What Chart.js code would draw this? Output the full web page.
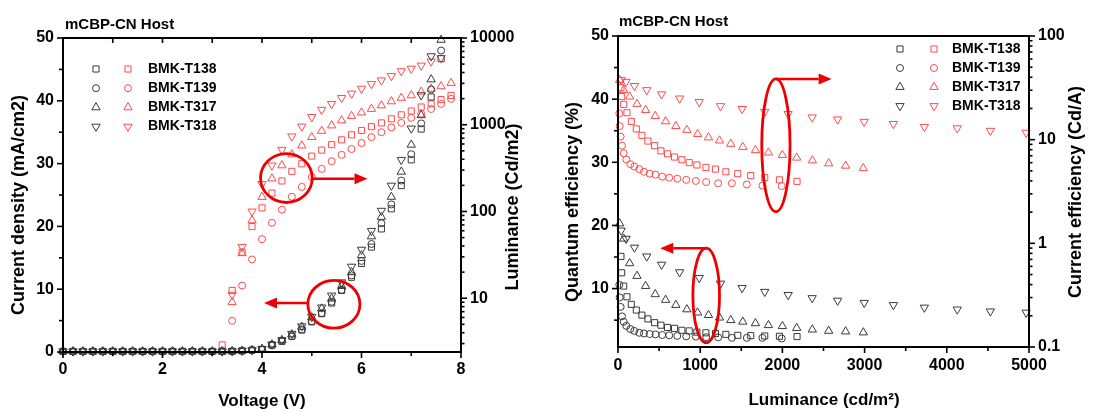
<!DOCTYPE html>
<html><head><meta charset="utf-8">
<script src="https://cdn.jsdelivr.net/npm/chart.js@4.4.1/dist/chart.umd.min.js"></script>
<style>
html,body{margin:0;padding:0;background:#fff;}
body{width:1097px;height:412px;overflow:hidden;position:relative;}
#c1{position:absolute;left:0;top:0;}
#c2{position:absolute;left:560px;top:0;}
</style></head>
<body>
<canvas id="c1" width="560" height="412"></canvas>
<canvas id="c2" width="537" height="412"></canvas>
<script>
// ---------------- DATA ----------------
const devices = ['BMK-T138', 'BMK-T139', 'BMK-T317', 'BMK-T318'];

// Left panel: voltage sweep (V)
const voltage = [0,0.2,0.4,0.6,0.8,1.0,1.2,1.4,1.6,1.8,2.0,2.2,2.4,2.6,2.8,3.0,3.2,3.4,3.6,3.8,4.0,4.2,4.4,4.6,4.8,5.0,5.2,5.4,5.6,5.8,6.0,6.2,6.4,6.6,6.8,7.0,7.2,7.4,7.6,7.8];

// Current density (mA/cm2)
const jT138 = [0.1,0.1,0.1,0.1,0.1,0.1,0.1,0.1,0.1,0.1,0.1,0.1,0.1,0.1,0.1,0.1,0.1,0.12,0.18,0.3,0.4,1.1,1.7,2.5,3.5,4.8,6.1,7.8,9.8,11.9,14.1,16.7,19.6,22.8,26.5,30.6,35.5,40.6,46.7,null];
const jT139 = [0.1,0.1,0.1,0.1,0.1,0.1,0.1,0.1,0.1,0.1,0.1,0.1,0.1,0.1,0.1,0.1,0.1,0.12,0.18,0.3,0.4,1.1,1.8,2.5,3.6,4.9,6.2,8.0,9.9,12.2,14.5,17.2,20.5,23.5,27.3,31.5,36.4,41.8,48.0,null];
const jT317 = [0.1,0.1,0.1,0.1,0.1,0.1,0.1,0.1,0.1,0.1,0.1,0.1,0.1,0.1,0.1,0.1,0.1,0.12,0.2,0.3,0.5,1.2,1.9,2.8,4.0,5.5,6.9,8.5,10.5,12.7,15.4,18.4,21.5,24.7,28.7,33.0,37.7,43.4,49.7,null];
const jT318 = [0.1,0.1,0.1,0.1,0.1,0.1,0.1,0.1,0.1,0.1,0.1,0.1,0.1,0.1,0.1,0.1,0.1,0.12,0.2,0.3,0.5,1.2,1.9,2.9,4.1,5.6,7.1,9.0,11.1,13.6,16.3,19.3,22.5,26.5,30.6,35.6,40.9,47.1,null,null];

// Luminance (Cd/m2)
const lumT138 = [null,null,null,null,null,null,null,null,null,null,null,null,null,null,null,null,2.9,12.3,34,67,110,163,225,290,355,435,510,590,670,765,860,950,1050,1170,1300,1440,1600,1740,1950,2180];
const lumT139 = [null,null,null,null,null,null,null,null,null,null,null,null,null,null,null,null,null,5.5,14,28,48,74,105,148,192,250,310,380,450,525,615,720,820,930,1050,1200,1340,1520,1740,1990];
const lumT317 = [null,null,null,null,null,null,null,null,null,null,null,null,null,null,null,null,null,9,33,79,147,240,340,455,575,720,850,980,1120,1260,1380,1520,1670,1860,2040,2180,2400,2600,2770,3030];
const lumT318 = [null,null,null,null,null,null,null,null,null,null,null,null,null,null,null,null,null,11,39,100,208,340,515,735,955,1230,1490,1740,2040,2290,2610,2950,3250,3650,4150,4440,4820,5370,5900,null];

// Right panel: luminance (cd/m2) per device
const effLumT138 = [36,45,69,109,162,223,291,364,445,522,603,688,777,866,960,1069,1186,1312,1457,1615,1785,1964,2178];
const effLumT139 = [16,20,32,49,69,101,150,198,259,316,385,457,538,623,721,830,947,1073,1219,1385,1567,1757,1992];
const effLumT317 = [20,69,142,231,336,453,579,704,838,968,1101,1235,1372,1518,1672,1830,2000,2174,2364,2563,2769,2984];
const effLumT318 = [39,99,200,350,530,750,988,1247,1510,1785,2070,2362,2672,2995,3350,3727,4127,4530,4965];

// External quantum efficiency (%)
const eqeT138 = [15.1,12.5,10.4,8.7,7.5,6.6,5.8,5.2,4.6,4.2,3.85,3.7,3.4,3.3,3.1,3.0,2.9,2.75,2.6,2.55,2.5,2.45,2.4];
const eqeT139 = [10.6,8.6,7.1,5.6,4.75,4.1,3.6,3.3,3.0,2.9,2.8,2.75,2.65,2.6,2.5,2.43,2.4,2.3,2.27,2.2,2.2,2.2,2.1];
const eqeT317 = [20.3,17.9,14.0,12.0,10.4,9.1,8.2,7.4,6.7,6.2,5.8,5.4,5.0,4.75,4.5,4.2,4.05,3.75,3.5,3.3,3.2,3.05];
const eqeT318 = [19.2,17.9,16.5,15.1,13.8,12.6,11.7,10.8,10.1,9.5,9.0,8.5,8.1,7.75,7.4,7.0,6.7,6.4,6.2];

// Current efficiency (Cd/A)
const ceT138 = [31.7,26.0,21.9,18.2,15.0,12.7,11.0,9.7,8.75,7.8,7.3,6.8,6.4,6.0,5.7,5.4,5.2,4.9,4.7,4.5,4.3,4.1,3.96];
const ceT139 = [17.9,13.5,10.7,8.75,7.4,6.45,5.8,5.5,5.2,4.9,4.7,4.6,4.4,4.3,4.2,4.1,4.0,3.9,3.8,3.8,3.7,3.6,3.57];
const ceT317 = [37.6,30.1,26.0,22.1,19.3,16.9,15.0,13.5,12.4,11.3,10.5,9.8,9.1,8.5,7.9,7.5,7.1,6.7,6.3,5.9,5.6,5.3];
const ceT318 = [37.6,36.2,33.0,30.1,27.4,25.0,23.1,21.1,19.8,18.6,17.7,16.4,15.7,14.9,14.2,13.3,12.9,12.2,11.7];

// Tick labels
const voltTicks = [0,2,4,6,8];
const jTicks = [0,10,20,30,40,50];
const lumTicks = [10,100,1000,10000];
const effLumTicks = [0,1000,2000,3000,4000,5000];
const eqeTicks = [10,20,30,40,50];
const ceTicks = [0.1,1,10,100];

// ---------------- STYLE ----------------
const FONT = '"Liberation Sans", Arial, sans-serif';
const BLACK = '#3a3a3a';
const RED = '#ff4a4a';
const ANN = '#ee0000';
const shapes = [
  {pointStyle:'rect', radius:4.3, rotation:0},
  {pointStyle:'circle', radius:3.5, rotation:0},
  {pointStyle:'triangle', radius:4.8, rotation:0},
  {pointStyle:'triangle', radius:4.8, rotation:180}
];

function pairs(xs, ys) {
  const out = [];
  xs.forEach((x, i) => { if (ys[i] !== null && ys[i] !== undefined) out.push({x: x, y: ys[i]}); });
  return out;
}
function ds(label, data, axis, color, k) {
  return {label, data, yAxisID: axis, showLine:false, clip:false,
    pointStyle: shapes[k].pointStyle, pointRadius: shapes[k].radius, pointRotation: shapes[k].rotation,
    pointHoverRadius: shapes[k].radius,
    borderColor: color, backgroundColor: 'rgba(0,0,0,0)', pointBorderWidth: 1, borderWidth: 1};
}
function logMinors(lo, hi) {
  const m = [];
  for (let d = Math.floor(Math.log10(lo)); d < Math.ceil(Math.log10(hi)); d++) {
    for (let k = 2; k <= 9; k++) { const v = k * Math.pow(10, d); if (v >= lo && v <= hi) m.push(v); }
  }
  return m;
}
const tickFont = {family: FONT, weight: 'bold', size: 16};
const plainLabel = v => String(v);
function fixTicks(vals) { return s => { s.ticks = vals.map(v => ({value: v})); }; }

function txt(c, s, x, y, size, rot, align) {
  c.save(); c.translate(x, y); if (rot) c.rotate(rot);
  c.font = 'bold ' + size + 'px ' + FONT; c.fillStyle = '#000';
  c.textAlign = align || 'center'; c.textBaseline = 'middle';
  c.fillText(s, 0, 0); c.restore();
}
function arrow(c, x1, y1, x2, y2) {
  const ang = Math.atan2(y2 - y1, x2 - x1), L = 13, W = 5.5;
  const bx = x2 - L * Math.cos(ang), by = y2 - L * Math.sin(ang);
  c.beginPath(); c.moveTo(x1, y1); c.lineTo(bx, by); c.stroke();
  c.beginPath(); c.moveTo(x2, y2);
  c.lineTo(bx + W * Math.sin(ang), by - W * Math.cos(ang));
  c.lineTo(bx - W * Math.sin(ang), by + W * Math.cos(ang));
  c.closePath(); c.fill();
}

function makeDecor(cfg) {
  return {
    id: 'decor',
    afterDatasetsDraw(chart) {
      const c = chart.ctx, sc = chart.scales;
      c.save();
      c.strokeStyle = ANN; c.fillStyle = ANN; c.lineWidth = 2.8;
      cfg.ellipses.forEach(e => {
        const xs = sc.x, ys = sc[e.axis];
        const cx = xs.getPixelForValue(e.x);
        const rx = Math.abs(xs.getPixelForValue(e.x + e.dx) - cx);
        const yt = ys.getPixelForValue(e.top), yb = ys.getPixelForValue(e.bottom);
        c.beginPath(); c.ellipse(cx, (yt + yb) / 2, rx, Math.abs(yb - yt) / 2, 0, 0, 2 * Math.PI); c.stroke();
      });
      c.lineWidth = 2.5;
      cfg.arrows.forEach(a => {
        const ys = sc[a.axis];
        const y = ys.getPixelForValue(a.y);
        arrow(c, sc.x.getPixelForValue(a.x1), y, sc.x.getPixelForValue(a.x2), y);
      });
      c.restore();
    },
    afterDraw(chart) {
      const c = chart.ctx, a = chart.chartArea, sc = chart.scales;
      c.save();
      c.strokeStyle = '#000'; c.lineWidth = 2;
      c.strokeRect(a.left, a.top, a.right - a.left, a.bottom - a.top);
      c.lineWidth = 1.6;
      cfg.ticks.forEach(t => {
        const s = sc[t.scale];
        t.values.forEach(v => {
          const p = s.getPixelForValue(v);
          c.beginPath();
          if (t.side === 'bottom') { c.moveTo(p, a.bottom); c.lineTo(p, a.bottom + t.len); }
          else if (t.side === 'top') { c.moveTo(p, a.top); c.lineTo(p, a.top + t.len); }
          else if (t.side === 'left') { c.moveTo(a.left, p); c.lineTo(a.left - t.len, p); }
          else { c.moveTo(a.right, p); c.lineTo(a.right + t.len, p); }
          c.stroke();
        });
      });
      cfg.texts.forEach(t => txt(c, t.s, t.x, t.y, t.size, t.rot, t.align));
      const lg = cfg.legend;
      devices.forEach((d, i) => {
        const y = lg.y0 + i * lg.dy;
        const o = {pointStyle: shapes[i].pointStyle, rotation: shapes[i].rotation, radius: shapes[i].radius, borderWidth: 1};
        c.fillStyle = 'rgba(0,0,0,0)'; c.lineWidth = 1;
        c.strokeStyle = BLACK; Chart.helpers.drawPoint(c, o, lg.xb, y);
        c.fillStyle = 'rgba(0,0,0,0)';
        c.strokeStyle = RED; Chart.helpers.drawPoint(c, o, lg.xr, y);
        txt(c, d, lg.xt, y, 14, 0, 'left');
      });
      c.restore();
    }
  };
}

Chart.defaults.font.family = FONT;
Chart.defaults.color = '#000';

// ---------------- LEFT CHART ----------------
const jSets = [jT138, jT139, jT317, jT318];
const lumSets = [lumT138, lumT139, lumT317, lumT318];
const leftData = [];
devices.forEach((d, i) => leftData.push(ds(d + ' J', pairs(voltage, jSets[i]), 'y', BLACK, i)));
devices.forEach((d, i) => leftData.push(ds(d + ' L', pairs(voltage, lumSets[i]), 'y2', RED, i)));

new Chart(document.getElementById('c1'), {
  type: 'scatter',
  data: {datasets: leftData},
  options: {
    responsive: false, animation: false, devicePixelRatio: 1,
    layout: {padding: {top: 38, left: 0, right: 0, bottom: 0}},
    plugins: {legend: {display: false}, tooltip: {enabled: false}},
    scales: {
      x: {type: 'linear', position: 'bottom', min: 0, max: 8,
        afterBuildTicks: fixTicks(voltTicks),
        ticks: {font: tickFont, color: '#000', padding: 8, maxRotation: 0, autoSkip: false, callback: plainLabel},
        grid: {display: false, drawTicks: false}, border: {display: false},
        afterFit: s => { s.height = 60; }},
      y: {type: 'linear', position: 'left', min: 0, max: 50,
        afterBuildTicks: fixTicks(jTicks),
        ticks: {font: tickFont, color: '#000', padding: 9, callback: plainLabel},
        grid: {display: false, drawTicks: false}, border: {display: false},
        afterFit: s => { s.width = 63; }},
      y2: {type: 'logarithmic', position: 'right', min: 2.4, max: 10000,
        afterBuildTicks: fixTicks(lumTicks),
        ticks: {font: tickFont, color: '#000', padding: 9, callback: plainLabel},
        grid: {display: false, drawTicks: false}, border: {display: false},
        afterFit: s => { s.width = 99; }}
    }
  },
  plugins: [makeDecor({
    ellipses: [
      {axis: 'y2', x: 4.49, dx: 0.52, top: 465, bottom: 127},
      {axis: 'y', x: 5.445, dx: 0.523, top: 11.4, bottom: 3.8}
    ],
    arrows: [
      {axis: 'y2', y: 239, x1: 5.01, x2: 6.12},
      {axis: 'y', y: 7.8, x1: 4.92, x2: 4.04}
    ],
    ticks: [
      {scale: 'x', side: 'bottom', values: [0,2,4,6,8], len: 6},
      {scale: 'x', side: 'bottom', values: [1,3,5,7], len: 4},
      {scale: 'x', side: 'top', values: [1,2,3,4,5,6,7], len: 5},
      {scale: 'y', side: 'left', values: [0,10,20,30,40,50], len: 6},
      {scale: 'y', side: 'left', values: [5,15,25,35,45], len: 4},
      {scale: 'y2', side: 'right', values: [10,100,1000,10000], len: 6},
      {scale: 'y2', side: 'right', values: logMinors(2.4, 10000), len: 3.5}
    ],
    texts: [
      {s: 'mCBP-CN Host', x: 65, y: 25, size: 15, align: 'left'},
      {s: 'Current density (mA/cm2)', x: 19, y: 205, size: 18, rot: -Math.PI / 2},
      {s: 'Luminance (Cd/m2)', x: 513, y: 207, size: 18, rot: -Math.PI / 2},
      {s: 'Voltage (V)', x: 262, y: 401, size: 17}
    ],
    legend: {xb: 96, xr: 128, xt: 148, y0: 69, dy: 19.2}
  })]
});

// ---------------- RIGHT CHART ----------------
const effLumSets = [effLumT138, effLumT139, effLumT317, effLumT318];
const eqeSets = [eqeT138, eqeT139, eqeT317, eqeT318];
const ceSets = [ceT138, ceT139, ceT317, ceT318];
const rightData = [];
devices.forEach((d, i) => rightData.push(ds(d + ' EQE', pairs(effLumSets[i], eqeSets[i]), 'y', BLACK, i)));
devices.forEach((d, i) => rightData.push(ds(d + ' CE', pairs(effLumSets[i], ceSets[i]), 'y2', RED, i)));

new Chart(document.getElementById('c2'), {
  type: 'scatter',
  data: {datasets: rightData},
  options: {
    responsive: false, animation: false, devicePixelRatio: 1,
    layout: {padding: {top: 36, left: 0, right: 0, bottom: 0}},
    plugins: {legend: {display: false}, tooltip: {enabled: false}},
    scales: {
      x: {type: 'linear', position: 'bottom', min: 0, max: 5000,
        afterBuildTicks: fixTicks(effLumTicks),
        ticks: {font: tickFont, color: '#000', padding: 9, maxRotation: 0, autoSkip: false, callback: plainLabel},
        grid: {display: false, drawTicks: false}, border: {display: false},
        afterFit: s => { s.height = 65; }},
      y: {type: 'linear', position: 'left', min: 0.75, max: 50,
        afterBuildTicks: fixTicks(eqeTicks),
        ticks: {font: tickFont, color: '#000', padding: 9, callback: plainLabel},
        grid: {display: false, drawTicks: false}, border: {display: false},
        afterFit: s => { s.width = 58; }},
      y2: {type: 'logarithmic', position: 'right', min: 0.1, max: 100,
        afterBuildTicks: fixTicks(ceTicks),
        ticks: {font: tickFont, color: '#000', padding: 9, callback: plainLabel},
        grid: {display: false, drawTicks: false}, border: {display: false},
        afterFit: s => { s.width = 68; }}
    }
  },
  plugins: [makeDecor({
    ellipses: [
      {axis: 'y2', x: 1921, dx: 172, top: 38.5, bottom: 2.02},
      {axis: 'y', x: 1073, dx: 162, top: 16.4, bottom: 1.43}
    ],
    arrows: [
      {axis: 'y2', y: 38.5, x1: 1921, x2: 2599},
      {axis: 'y', y: 16.4, x1: 1073, x2: 514}
    ],
    ticks: [
      {scale: 'x', side: 'bottom', values: [0,1000,2000,3000,4000,5000], len: 6},
      {scale: 'x', side: 'bottom', values: [500,1500,2500,3500,4500], len: 4},
      {scale: 'y', side: 'left', values: [10,20,30,40,50], len: 6},
      {scale: 'y', side: 'left', values: [5,15,25,35,45], len: 4},
      {scale: 'y2', side: 'right', values: [0.1,1,10,100], len: 6},
      {scale: 'y2', side: 'right', values: logMinors(0.1, 100), len: 3.5}
    ],
    texts: [
      {s: 'mCBP-CN Host', x: 59, y: 22, size: 15, align: 'left'},
      {s: 'Quantum efficiency (%)', x: 13, y: 202, size: 18, rot: -Math.PI / 2},
      {s: 'Current efficiency (Cd/A)', x: 516, y: 192, size: 18, rot: -Math.PI / 2},
      {s: 'Luminance (cd/m\u00B2)', x: 264, y: 400, size: 17}
    ],
    legend: {xb: 340, xr: 374, xt: 392, y0: 49, dy: 19}
  })]
});
</script>
</body></html>
